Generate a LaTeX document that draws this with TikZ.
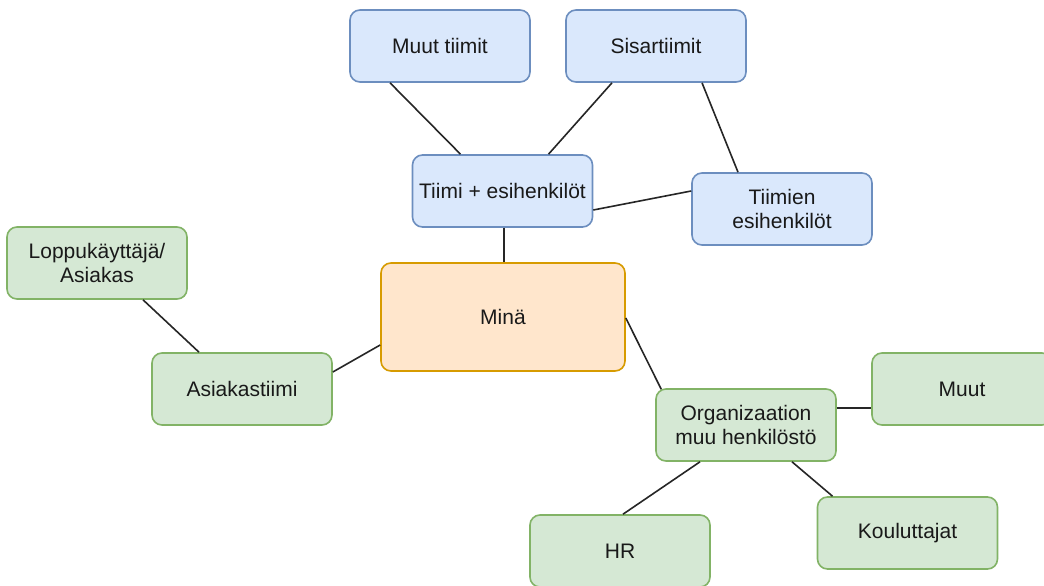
\documentclass[tikz,border=0pt]{standalone}
\usepackage{fontspec}
\setmainfont{Liberation Sans}
\definecolor{bluefill}{HTML}{DAE8FC}
\definecolor{bluedraw}{HTML}{6C8EBF}
\definecolor{greenfill}{HTML}{D5E8D4}
\definecolor{greendraw}{HTML}{82B366}
\definecolor{orangefill}{HTML}{FFE6CC}
\definecolor{orangedraw}{HTML}{D79B00}
\begin{document}
\begin{tikzpicture}[x=1pt,y=-1pt,
  box/.style={rounded corners=10pt, line width=1.6pt, minimum width=180pt, minimum height=72pt,
    inner sep=0pt, align=center, text=black!90, font=\fontsize{21}{24.5}\selectfont},
  bluebox/.style={box, draw=bluedraw, fill=bluefill},
  greenbox/.style={box, draw=greendraw, fill=greenfill},
  orangebox/.style={box, draw=orangedraw, fill=orangefill, minimum width=244pt, minimum height=108pt},
  link/.style={draw=black!85, line width=1.6pt}]
\useasboundingbox (0,0) rectangle (1044,586);
\clip (0,0) rectangle (1044,586);
\fill[white] (0,0) rectangle (1044,586);

\node[bluebox] (mt) at (440,46) {Muut tiimit};
\node[bluebox] (sis) at (656,46) {Sisartiimit};
\node[bluebox] (tiimi) at (502.5,191) {Tiimi + esihenkilöt};
\node[bluebox] (tesi) at (782,209) {Tiimien\\esihenkilöt};
\node[greenbox] (loppu) at (97,263) {Loppukäyttäjä/\\Asiakas};
\node[orangebox] (mina) at (503,317) {Minä};
\node[greenbox] (asiak) at (242,389) {Asiakastiimi};
\node[greenbox] (org) at (746,425) {Organizaation\\muu henkilöstö};
\node[greenbox] (muut) at (962,389) {Muut};
\node[greenbox] (koul) at (907.5,533) {Kouluttajat};
\node[greenbox] (hr) at (620,551) {HR};

\draw[link] ([xshift=-50pt]mt.south) -- ([xshift=-42pt]tiimi.north);
\draw[link] ([xshift=-44pt]sis.south) -- ([xshift=46pt]tiimi.north);
\draw[link] ([xshift=46pt]sis.south) -- ([xshift=-44pt]tesi.north);
\draw[link] ([yshift=-19pt]tiimi.east) -- ([yshift=18pt]tesi.west);
\draw[link] ([xshift=1.5pt]tiimi.south) -- ([xshift=1.5pt]tiimi.south |- mina.north);
\draw[link] ([xshift=46pt]loppu.south) -- ([xshift=-43pt]asiak.north);
\draw[link] ([yshift=17pt]asiak.east) -- ([yshift=-28pt]mina.west);
\draw[link] ([yshift=-1pt]mina.east) -- ([xshift=6pt,yshift=-1pt]org.north west);
\draw[link] ([yshift=17pt]org.east) -- ([yshift=-19pt]muut.west);
\draw[link] ([xshift=-46pt]org.south) -- ([xshift=3pt]hr.north);
\draw[link] ([xshift=46pt]org.south) -- ([xshift=-75pt]koul.north);
\end{tikzpicture}
\end{document}
